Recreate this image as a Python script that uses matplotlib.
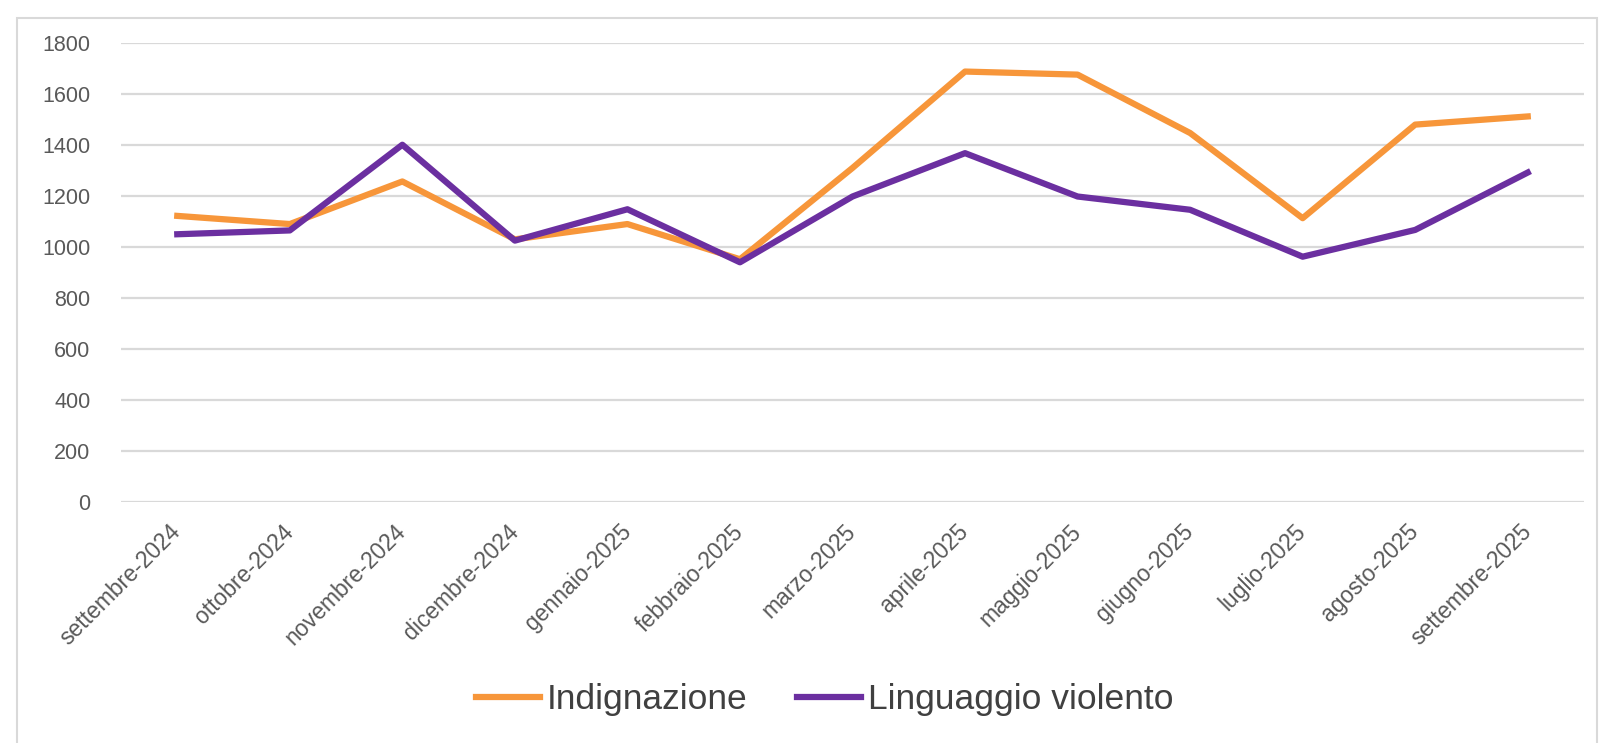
import matplotlib.pyplot as plt
from matplotlib.patches import Rectangle

months = ['settembre-2024', 'ottobre-2024', 'novembre-2024', 'dicembre-2024',
          'gennaio-2025', 'febbraio-2025', 'marzo-2025', 'aprile-2025',
          'maggio-2025', 'giugno-2025', 'luglio-2025', 'agosto-2025',
          'settembre-2025']
indignazione = [1122, 1090, 1257, 1030, 1090, 952, 1310, 1688, 1676, 1447, 1113, 1480, 1512]
violento = [1050, 1065, 1401, 1025, 1148, 940, 1198, 1368, 1198, 1146, 962, 1067, 1292]

orange = '#F7963A'
purple = '#6B2FA0'
grid_c = '#D9D9D9'
text_c = '#595959'

plt.rcParams['font.family'] = ['Liberation Sans', 'DejaVu Sans']

fig = plt.figure(figsize=(16.2, 7.43), dpi=100)
fig.patches.append(Rectangle((17/1620, -0.02), (1597-17)/1620, 1.008 - 9/743,
                             transform=fig.transFigure, fill=False,
                             edgecolor=grid_c, linewidth=1.5))

ax = fig.add_axes([121/1620, 1 - 502/743, (1584-121)/1620, (502-43)/743])
x = range(len(months))
ax.plot(x, indignazione, color=orange, lw=4.5, label='Indignazione', zorder=3)
ax.plot(x, violento, color=purple, lw=4.5, label='Linguaggio violento', zorder=4)

ax.set_xlim(-0.5, len(months) - 0.5)
ax.set_ylim(0, 1800)
ax.set_yticks(range(0, 1801, 200))
ax.yaxis.grid(True, color=grid_c, lw=1.6)
ax.set_axisbelow(True)
for s in ax.spines.values():
    s.set_visible(False)
ax.tick_params(axis='both', length=0, colors=text_c)
ax.tick_params(axis='y', pad=22, labelsize=15.5)
ax.set_xticks(list(x))
ax.set_xticklabels(months, rotation=45, ha='right', va='center',
                   rotation_mode='anchor', fontsize=16.5)
ax.tick_params(axis='x', pad=19)

fig.legend(loc='center', bbox_to_anchor=(0.509, 1 - 700/743), ncol=2,
           frameon=False, fontsize=25.5, handlelength=1.8, handletextpad=0.2,
           columnspacing=1.4, labelcolor='#404040')

fig.savefig('out.png', dpi=100, facecolor='white')
